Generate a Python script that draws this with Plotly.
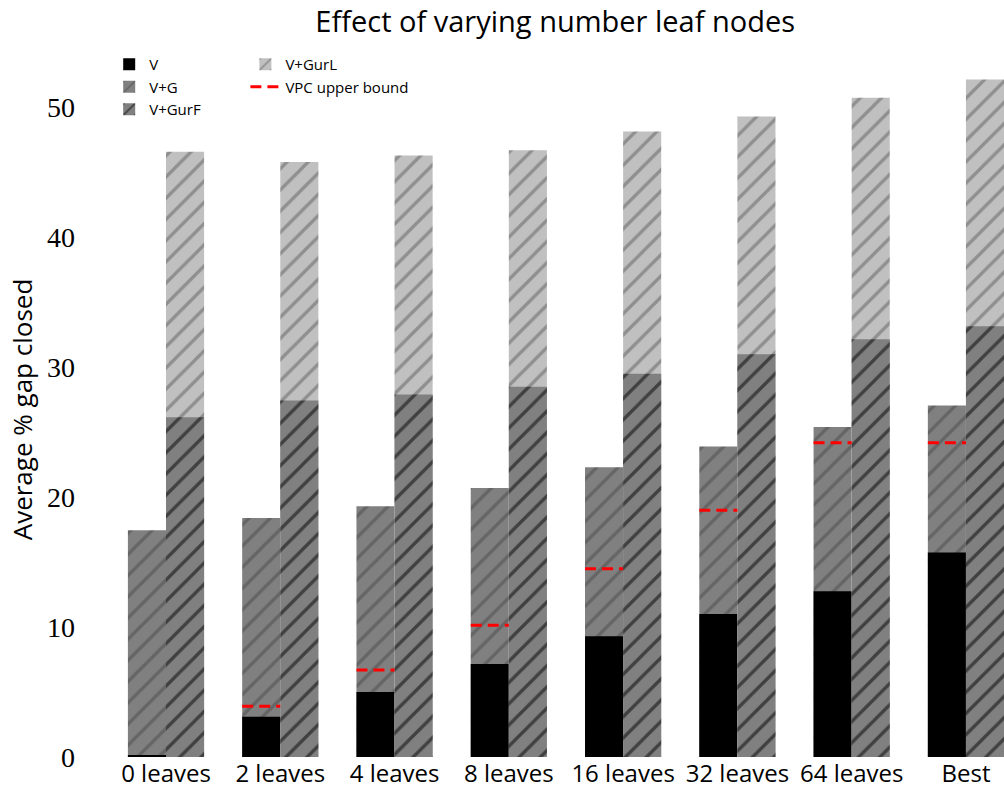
import plotly.graph_objects as go

categories = ["0 leaves", "2 leaves", "4 leaves", "8 leaves",
              "16 leaves", "32 leaves", "64 leaves", "Best"]
v_vals     = [0.1, 3.1, 5.0, 7.15, 9.3, 11.0, 12.75, 15.75]
vg_vals    = [17.45, 18.4, 19.3, 20.7, 22.3, 23.9, 25.4, 27.05]
gurf_vals  = [26.15, 27.45, 27.9, 28.5, 29.5, 31.0, 32.15, 33.15]
gurl_vals  = [46.6, 45.8, 46.3, 46.7, 48.15, 49.3, 50.75, 52.15]
vpc_vals   = [None, 3.9, 6.7, 10.15, 14.5, 19.0, 24.2, 24.2]

BAR_W = 1 / 3
idx = list(range(len(categories)))
left_x = [i - BAR_W / 2 for i in idx]
right_x = [i + BAR_W / 2 for i in idx]

SANS = "Open Sans"
SERIF = "Liberation Serif"
HATCH_SIZE = 15
HATCH_SOLID = 0.22

fig = go.Figure()

# left bar: V+G drawn full height, V overlaid from the base
fig.add_trace(go.Bar(
    x=left_x, y=vg_vals, width=BAR_W, name="V+G", legend="legend", legendrank=2,
    marker=dict(color="#808080", line=dict(width=0),
                pattern=dict(shape="/", fgcolor="#4a4a4a", bgcolor="#808080",
                             size=HATCH_SIZE, solidity=HATCH_SOLID)),
    hoverinfo="y"))
fig.add_trace(go.Bar(
    x=left_x, y=v_vals, width=BAR_W, name="V", legend="legend", legendrank=1,
    marker=dict(color="#000000", line=dict(width=0)), hoverinfo="y"))

# right bar: V+GurL drawn full height, V+GurF overlaid from the base
fig.add_trace(go.Bar(
    x=right_x, y=gurl_vals, width=BAR_W, name="V+GurL", legend="legend2", legendrank=4,
    marker=dict(color="#c0c0c0", line=dict(width=0),
                pattern=dict(shape="/", fgcolor="#5e5e5e", bgcolor="#c0c0c0",
                             size=HATCH_SIZE, solidity=HATCH_SOLID)),
    hoverinfo="y"))
fig.add_trace(go.Bar(
    x=right_x, y=gurf_vals, width=BAR_W, name="V+GurF", legend="legend", legendrank=3,
    marker=dict(color="#808080", line=dict(width=0),
                pattern=dict(shape="/", fgcolor="#000000", bgcolor="#808080",
                             size=HATCH_SIZE, solidity=HATCH_SOLID)),
    hoverinfo="y"))

# VPC upper bound: a dashed segment across each left bar
vx, vy = [], []
for i, val in zip(idx, vpc_vals):
    if val is None:
        continue
    vx += [i - BAR_W, i, None]
    vy += [val, val, None]
fig.add_trace(go.Scatter(
    x=vx, y=vy, mode="lines", name="VPC upper bound", legend="legend2", legendrank=5,
    line=dict(color="#ff0000", width=3, dash="11px,6px"), hoverinfo="y"))

fig.update_layout(
    barmode="overlay",
    width=1004, height=799,
    margin=dict(l=90, r=0, t=62, b=42),
    plot_bgcolor="white", paper_bgcolor="white",
    title=dict(text="Effect of varying number leaf nodes", x=0.553, xanchor="center",
               y=0.973, yanchor="middle",
               font=dict(family=SANS, size=29, color="#000000")),
    xaxis=dict(range=[-0.665, 7.333], tickmode="array", tickvals=idx, ticktext=categories,
               showgrid=False, zeroline=False, showline=False, ticks="",
               tickfont=dict(family=SANS, size=24, color="#000000")),
    yaxis=dict(range=[0, 53.5], tickmode="array", tickvals=[0, 10, 20, 30, 40, 50],
               showgrid=False, zeroline=False, showline=False, ticks="",
               ticklabelstandoff=14,
               tickfont=dict(family=SERIF, size=28, color="#000000"),
               title=dict(text="Average % gap closed", standoff=6,
                          font=dict(family=SANS, size=26, color="#000000"))),
    legend=dict(x=0.021, y=1.02, xanchor="left", yanchor="top", orientation="v",
                bgcolor="rgba(0,0,0,0)", tracegroupgap=0, itemwidth=30,
                font=dict(family=SANS, size=15, color="#000000")),
    legend2=dict(x=0.17, y=1.02, xanchor="left", yanchor="top", orientation="v",
                 bgcolor="rgba(0,0,0,0)", tracegroupgap=0, itemwidth=30,
                 font=dict(family=SANS, size=15, color="#000000")),
    showlegend=True,
)

fig.write_html("out.html")
